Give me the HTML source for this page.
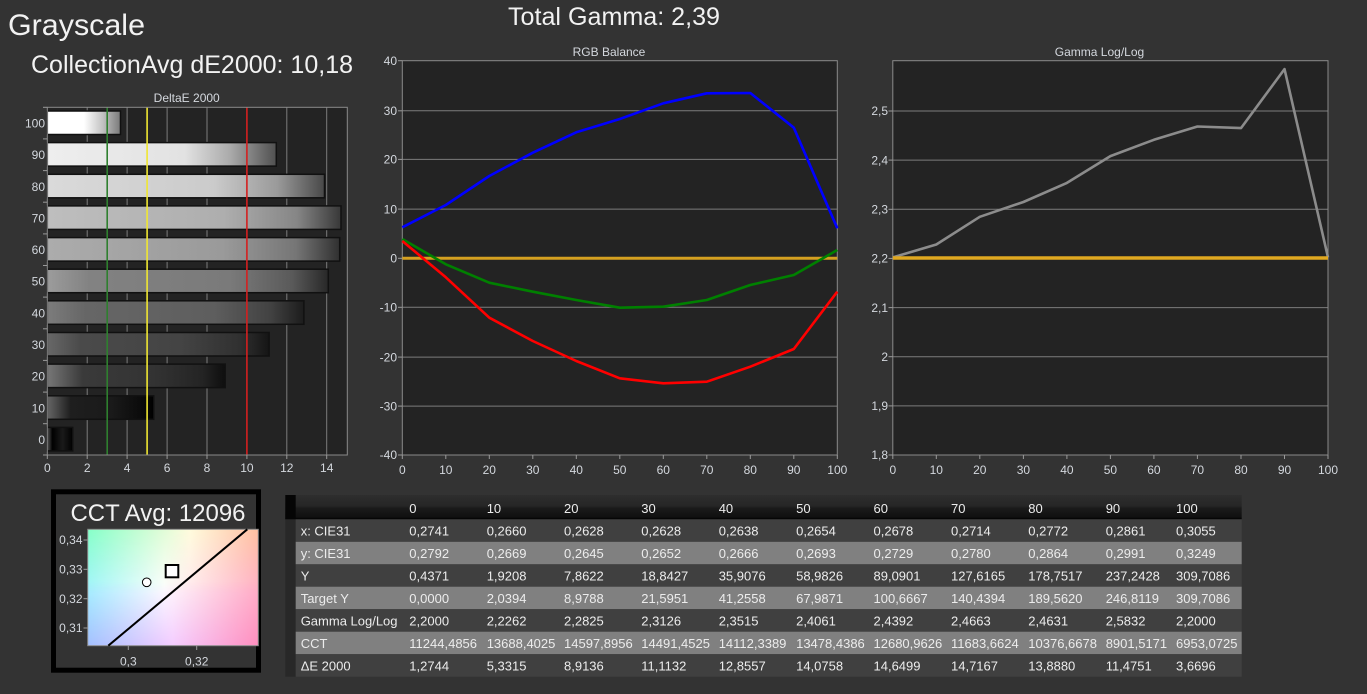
<!DOCTYPE html>
<html><head><meta charset="utf-8"><style>
html,body{margin:0;padding:0;background:#333333;}
svg{display:block;}
text{font-family:"Liberation Sans",sans-serif;}
</style></head><body>
<svg width="1367" height="694" viewBox="0 0 1367 694" xmlns="http://www.w3.org/2000/svg">
<defs>
<linearGradient id="g100" x1="0" x2="1" y1="0" y2="0"><stop offset="0" stop-color="#fff"/><stop offset="0.5" stop-color="#fff"/><stop offset="0.75" stop-color="#c4c4c4"/><stop offset="1" stop-color="#7a7a7a"/></linearGradient>
<linearGradient id="g90" x1="0" x2="1"><stop offset="0" stop-color="#eeeeee"/><stop offset="0.6" stop-color="#e2e2e2"/><stop offset="0.8" stop-color="#aaaaaa"/><stop offset="1" stop-color="#505050"/></linearGradient>
<linearGradient id="g80" x1="0" x2="1"><stop offset="0" stop-color="#dadada"/><stop offset="0.6" stop-color="#cbcbcb"/><stop offset="0.83" stop-color="#9a9a9a"/><stop offset="1" stop-color="#484848"/></linearGradient>
<linearGradient id="g70" x1="0" x2="1"><stop offset="0" stop-color="#bebebe"/><stop offset="0.6" stop-color="#aeaeae"/><stop offset="0.85" stop-color="#868686"/><stop offset="1" stop-color="#383838"/></linearGradient>
<linearGradient id="g60" x1="0" x2="1"><stop offset="0" stop-color="#acacac"/><stop offset="0.6" stop-color="#9a9a9a"/><stop offset="0.85" stop-color="#767676"/><stop offset="1" stop-color="#303030"/></linearGradient>
<linearGradient id="g50" x1="0" x2="1"><stop offset="0" stop-color="#9c9c9c"/><stop offset="0.15" stop-color="#828282"/><stop offset="0.65" stop-color="#7a7a7a"/><stop offset="0.87" stop-color="#5a5a5a"/><stop offset="1" stop-color="#282828"/></linearGradient>
<linearGradient id="g40" x1="0" x2="1"><stop offset="0" stop-color="#7c7c7c"/><stop offset="0.15" stop-color="#666"/><stop offset="0.65" stop-color="#5e5e5e"/><stop offset="0.87" stop-color="#424242"/><stop offset="1" stop-color="#1c1c1c"/></linearGradient>
<linearGradient id="g30" x1="0" x2="1"><stop offset="0" stop-color="#686868"/><stop offset="0.15" stop-color="#4a4a4a"/><stop offset="0.6" stop-color="#444"/><stop offset="0.87" stop-color="#303030"/><stop offset="1" stop-color="#151515"/></linearGradient>
<linearGradient id="g20" x1="0" x2="1"><stop offset="0" stop-color="#777"/><stop offset="0.2" stop-color="#3a3a3a"/><stop offset="0.6" stop-color="#333"/><stop offset="0.87" stop-color="#242424"/><stop offset="1" stop-color="#0e0e0e"/></linearGradient>
<linearGradient id="g10" x1="0" x2="1"><stop offset="0" stop-color="#666"/><stop offset="0.22" stop-color="#1e1e1e"/><stop offset="0.6" stop-color="#1a1a1a"/><stop offset="0.9" stop-color="#0a0a0a"/><stop offset="1" stop-color="#000"/></linearGradient>
<linearGradient id="g0" x1="0" x2="1"><stop offset="0" stop-color="#555"/><stop offset="0.2" stop-color="#000"/><stop offset="0.6" stop-color="#1a1a1a"/><stop offset="1" stop-color="#000"/></linearGradient>
<linearGradient id="hdr" x1="0" x2="0" y1="0" y2="1"><stop offset="0" stop-color="#2e2e2e"/><stop offset="0.45" stop-color="#262626"/><stop offset="0.55" stop-color="#1a1a1a"/><stop offset="0.9" stop-color="#111"/><stop offset="1" stop-color="#000"/></linearGradient>
<linearGradient id="cMid" x1="0" x2="1"><stop offset="0" stop-color="#a6f4ff"/><stop offset="0.45" stop-color="#ffffff"/><stop offset="1" stop-color="#ffb0c8"/></linearGradient>
<linearGradient id="cTop" x1="0" x2="1"><stop offset="0" stop-color="#86ffc8"/><stop offset="0.6" stop-color="#fffbdc"/><stop offset="1" stop-color="#ffbfa0"/></linearGradient>
<linearGradient id="cBot" x1="0" x2="1"><stop offset="0" stop-color="#a4c0ff"/><stop offset="0.5" stop-color="#f4ccff"/><stop offset="1" stop-color="#ff8ebe"/></linearGradient>
<linearGradient id="fadeTop" x1="0" x2="0" y1="0" y2="1"><stop offset="0" stop-color="#fff"/><stop offset="0.55" stop-color="#000"/></linearGradient>
<linearGradient id="fadeBot" x1="0" x2="0" y1="0" y2="1"><stop offset="0.45" stop-color="#000"/><stop offset="1" stop-color="#fff"/></linearGradient>
<mask id="mTop" maskUnits="userSpaceOnUse" x="87" y="529" width="172" height="117"><rect x="87.7" y="529.3" width="170.6" height="116.4" fill="url(#fadeTop)"/></mask>
<mask id="mBot" maskUnits="userSpaceOnUse" x="87" y="529" width="172" height="117"><rect x="87.7" y="529.3" width="170.6" height="116.4" fill="url(#fadeBot)"/></mask>
</defs>

<!-- Titles -->
<text x="8" y="35" font-size="30" fill="#f2f2f2" textLength="137" lengthAdjust="spacingAndGlyphs">Grayscale</text>
<text x="31" y="73" font-size="25" fill="#f2f2f2" textLength="322" lengthAdjust="spacingAndGlyphs">CollectionAvg dE2000: 10,18</text>
<text x="508" y="25" font-size="25" fill="#f2f2f2" textLength="212" lengthAdjust="spacingAndGlyphs">Total Gamma: 2,39</text>

<!-- ===== DeltaE chart ===== -->
<text x="186.7" y="102" font-size="12" fill="#d4d8de" text-anchor="middle">DeltaE 2000</text>
<rect x="47.3" y="107.3" width="300" height="347.7" fill="#232323"/>
<g stroke="#7c7c7c" stroke-width="1">
<line x1="87.2" y1="107.3" x2="87.2" y2="455"/>
<line x1="127.1" y1="107.3" x2="127.1" y2="455"/>
<line x1="167.1" y1="107.3" x2="167.1" y2="455"/>
<line x1="207.0" y1="107.3" x2="207.0" y2="455"/>
<line x1="286.8" y1="107.3" x2="286.8" y2="455"/>
<line x1="326.7" y1="107.3" x2="326.7" y2="455"/>
</g>
<g stroke="#111" stroke-width="1.5">
<rect x="47.3" y="111" width="73.2" height="23.5" fill="url(#g100)"/>
<rect x="47.3" y="142.6" width="229.0" height="23.5" fill="url(#g90)"/>
<rect x="47.3" y="174.3" width="277.2" height="23.5" fill="url(#g80)"/>
<rect x="47.3" y="205.9" width="293.7" height="23.5" fill="url(#g70)"/>
<rect x="47.3" y="237.6" width="292.4" height="23.5" fill="url(#g60)"/>
<rect x="47.3" y="269.2" width="281.0" height="23.5" fill="url(#g50)"/>
<rect x="47.3" y="300.8" width="256.6" height="23.5" fill="url(#g40)"/>
<rect x="47.3" y="332.5" width="221.8" height="23.5" fill="url(#g30)"/>
<rect x="47.3" y="364.1" width="177.9" height="23.5" fill="url(#g20)"/>
<rect x="47.3" y="395.8" width="106.4" height="23.5" fill="url(#g10)"/>
<rect x="47.3" y="427.4" width="25.4" height="23.5" fill="url(#g0)"/>
</g>
<line x1="107.2" y1="107.3" x2="107.2" y2="455" stroke="#2f7f2f" stroke-width="1.6"/>
<line x1="147.1" y1="107.3" x2="147.1" y2="455" stroke="#f0e632" stroke-width="1.6"/>
<line x1="246.9" y1="107.3" x2="246.9" y2="455" stroke="#d42020" stroke-width="1.6"/>
<rect x="47.3" y="107.3" width="300" height="347.7" fill="none" stroke="#8a8a8a" stroke-width="1"/>
<g stroke="#9a9a9a" stroke-width="1">
<line x1="43" y1="107.3" x2="47.3" y2="107.3"/><line x1="43" y1="138.9" x2="47.3" y2="138.9"/><line x1="43" y1="170.6" x2="47.3" y2="170.6"/><line x1="43" y1="202.2" x2="47.3" y2="202.2"/><line x1="43" y1="233.9" x2="47.3" y2="233.9"/><line x1="43" y1="265.5" x2="47.3" y2="265.5"/><line x1="43" y1="297.1" x2="47.3" y2="297.1"/><line x1="43" y1="328.8" x2="47.3" y2="328.8"/><line x1="43" y1="360.4" x2="47.3" y2="360.4"/><line x1="43" y1="392.1" x2="47.3" y2="392.1"/><line x1="43" y1="423.7" x2="47.3" y2="423.7"/><line x1="43" y1="455" x2="47.3" y2="455"/>
<line x1="47.3" y1="455" x2="47.3" y2="459"/><line x1="87.2" y1="455" x2="87.2" y2="459"/><line x1="127.1" y1="455" x2="127.1" y2="459"/><line x1="167.1" y1="455" x2="167.1" y2="459"/><line x1="207.0" y1="455" x2="207.0" y2="459"/><line x1="246.9" y1="455" x2="246.9" y2="459"/><line x1="286.8" y1="455" x2="286.8" y2="459"/><line x1="326.7" y1="455" x2="326.7" y2="459"/>
</g>
<g font-size="12" fill="#d4d8de" text-anchor="end">
<text x="45" y="127.5">100</text><text x="45" y="159.2">90</text><text x="45" y="190.8">80</text><text x="45" y="222.5">70</text><text x="45" y="254.1">60</text><text x="45" y="285.7">50</text><text x="45" y="317.4">40</text><text x="45" y="349">30</text><text x="45" y="380.7">20</text><text x="45" y="412.3">10</text><text x="45" y="444">0</text>
</g>
<g font-size="12" fill="#d4d8de" text-anchor="middle">
<text x="47.3" y="472">0</text><text x="87.2" y="472">2</text><text x="127.1" y="472">4</text><text x="167.1" y="472">6</text><text x="207.0" y="472">8</text><text x="246.9" y="472">10</text><text x="286.8" y="472">12</text><text x="326.7" y="472">14</text>
</g>

<!-- ===== RGB Balance ===== -->
<text x="609" y="56" font-size="12" fill="#d4d8de" text-anchor="middle">RGB Balance</text>
<rect x="402.3" y="60.7" width="435" height="394.3" fill="#232323"/>
<g stroke="#7c7c7c" stroke-width="1">
<line x1="402.3" y1="110.8" x2="837.3" y2="110.8"/>
<line x1="402.3" y1="159.4" x2="837.3" y2="159.4"/>
<line x1="402.3" y1="209.1" x2="837.3" y2="209.1"/>
<line x1="402.3" y1="258.3" x2="837.3" y2="258.3"/>
<line x1="402.3" y1="307.3" x2="837.3" y2="307.3"/>
<line x1="402.3" y1="357.1" x2="837.3" y2="357.1"/>
<line x1="402.3" y1="406.1" x2="837.3" y2="406.1"/>
</g>
<rect x="402.3" y="60.7" width="435" height="394.3" fill="none" stroke="#8a8a8a" stroke-width="1"/>
<g stroke="#9a9a9a" stroke-width="1">
<line x1="398" y1="60.7" x2="402.3" y2="60.7"/><line x1="398" y1="110.8" x2="402.3" y2="110.8"/><line x1="398" y1="159.4" x2="402.3" y2="159.4"/><line x1="398" y1="209.1" x2="402.3" y2="209.1"/><line x1="398" y1="258.3" x2="402.3" y2="258.3"/><line x1="398" y1="307.3" x2="402.3" y2="307.3"/><line x1="398" y1="357.1" x2="402.3" y2="357.1"/><line x1="398" y1="406.1" x2="402.3" y2="406.1"/><line x1="398" y1="455" x2="402.3" y2="455"/>
<line x1="402.3" y1="455" x2="402.3" y2="459"/><line x1="445.8" y1="455" x2="445.8" y2="459"/><line x1="489.3" y1="455" x2="489.3" y2="459"/><line x1="532.8" y1="455" x2="532.8" y2="459"/><line x1="576.3" y1="455" x2="576.3" y2="459"/><line x1="619.8" y1="455" x2="619.8" y2="459"/><line x1="663.3" y1="455" x2="663.3" y2="459"/><line x1="706.8" y1="455" x2="706.8" y2="459"/><line x1="750.3" y1="455" x2="750.3" y2="459"/><line x1="793.8" y1="455" x2="793.8" y2="459"/><line x1="837.3" y1="455" x2="837.3" y2="459"/>
</g>
<g font-size="12" fill="#d4d8de" text-anchor="end">
<text x="397" y="65">40</text><text x="397" y="115">30</text><text x="397" y="163.6">20</text><text x="397" y="213.3">10</text><text x="397" y="262.5">0</text><text x="397" y="311.5">-10</text><text x="397" y="361.3">-20</text><text x="397" y="410.3">-30</text><text x="397" y="459.2">-40</text>
</g>
<g font-size="12" fill="#d4d8de" text-anchor="middle">
<text x="402.3" y="474">0</text><text x="445.8" y="474">10</text><text x="489.3" y="474">20</text><text x="532.8" y="474">30</text><text x="576.3" y="474">40</text><text x="619.8" y="474">50</text><text x="663.3" y="474">60</text><text x="706.8" y="474">70</text><text x="750.3" y="474">80</text><text x="793.8" y="474">90</text><text x="837.3" y="474">100</text>
</g>
<line x1="402.3" y1="258.3" x2="837.3" y2="258.3" stroke="#d4a020" stroke-width="3"/>
<g fill="none" stroke-width="2.6" stroke-linejoin="round">
<polyline stroke="#0000ff" points="402.3,227.3 445.8,205 489.3,176 532.8,152.7 576.3,132.3 619.8,119 663.3,103.3 706.8,93.3 750.3,93 793.8,127.7 837.3,228.3"/>
<polyline stroke="#008000" points="402.3,239 445.8,264.3 489.3,282.7 532.8,291.7 576.3,300 619.8,307.7 663.3,306.7 706.8,300 750.3,285 793.8,275 837.3,250"/>
<polyline stroke="#ff0000" points="402.3,241 445.8,277.3 489.3,317.7 532.8,341 576.3,361 619.8,378.3 663.3,383.3 706.8,381.7 750.3,366.7 793.8,349 837.3,291.7"/>
</g>

<!-- ===== Gamma Log/Log ===== -->
<text x="1099.5" y="56" font-size="12" fill="#d4d8de" text-anchor="middle">Gamma Log/Log</text>
<rect x="892.8" y="60.7" width="435.2" height="394.3" fill="#232323"/>
<g stroke="#7c7c7c" stroke-width="1">
<line x1="892.8" y1="111" x2="1328" y2="111"/>
<line x1="892.8" y1="160.1" x2="1328" y2="160.1"/>
<line x1="892.8" y1="209.3" x2="1328" y2="209.3"/>
<line x1="892.8" y1="258.4" x2="1328" y2="258.4"/>
<line x1="892.8" y1="307.6" x2="1328" y2="307.6"/>
<line x1="892.8" y1="356.7" x2="1328" y2="356.7"/>
<line x1="892.8" y1="405.9" x2="1328" y2="405.9"/>
</g>
<rect x="892.8" y="60.7" width="435.2" height="394.3" fill="none" stroke="#8a8a8a" stroke-width="1"/>
<g stroke="#9a9a9a" stroke-width="1">
<line x1="888.5" y1="111" x2="892.8" y2="111"/><line x1="888.5" y1="160.1" x2="892.8" y2="160.1"/><line x1="888.5" y1="209.3" x2="892.8" y2="209.3"/><line x1="888.5" y1="258.4" x2="892.8" y2="258.4"/><line x1="888.5" y1="307.6" x2="892.8" y2="307.6"/><line x1="888.5" y1="356.7" x2="892.8" y2="356.7"/><line x1="888.5" y1="405.9" x2="892.8" y2="405.9"/><line x1="888.5" y1="455" x2="892.8" y2="455"/>
<line x1="892.8" y1="455" x2="892.8" y2="459"/><line x1="936.3" y1="455" x2="936.3" y2="459"/><line x1="979.8" y1="455" x2="979.8" y2="459"/><line x1="1023.4" y1="455" x2="1023.4" y2="459"/><line x1="1066.9" y1="455" x2="1066.9" y2="459"/><line x1="1110.4" y1="455" x2="1110.4" y2="459"/><line x1="1153.9" y1="455" x2="1153.9" y2="459"/><line x1="1197.4" y1="455" x2="1197.4" y2="459"/><line x1="1241" y1="455" x2="1241" y2="459"/><line x1="1284.5" y1="455" x2="1284.5" y2="459"/><line x1="1328" y1="455" x2="1328" y2="459"/>
</g>
<g font-size="12" fill="#d4d8de" text-anchor="end">
<text x="888" y="115.2">2,5</text><text x="888" y="164.3">2,4</text><text x="888" y="213.5">2,3</text><text x="888" y="262.6">2,2</text><text x="888" y="311.8">2,1</text><text x="888" y="360.9">2</text><text x="888" y="410.1">1,9</text><text x="888" y="459.2">1,8</text>
</g>
<g font-size="12" fill="#d4d8de" text-anchor="middle">
<text x="892.8" y="474">0</text><text x="936.3" y="474">10</text><text x="979.8" y="474">20</text><text x="1023.4" y="474">30</text><text x="1066.9" y="474">40</text><text x="1110.4" y="474">50</text><text x="1153.9" y="474">60</text><text x="1197.4" y="474">70</text><text x="1241" y="474">80</text><text x="1284.5" y="474">90</text><text x="1328" y="474">100</text>
</g>
<polyline fill="none" stroke="#8c8c8c" stroke-width="2.6" stroke-linejoin="round" points="892.8,257.4 936.3,244.5 979.8,216.8 1023.4,202 1066.9,182.9 1110.4,156.1 1153.9,139.8 1197.4,126.5 1241,128.1 1284.5,69.1 1328,257.4"/>
<line x1="892.8" y1="258" x2="1328" y2="258" stroke="#e0a820" stroke-width="3.6"/>

<!-- ===== CCT box ===== -->
<rect x="53.5" y="491.8" width="205" height="178.4" fill="#333" stroke="#000" stroke-width="5"/>
<text x="158" y="521" font-size="24" fill="#f2f2f2" text-anchor="middle" textLength="175" lengthAdjust="spacingAndGlyphs">CCT Avg: 12096</text>
<rect x="87.7" y="529.3" width="170.6" height="116.4" fill="url(#cMid)"/>
<rect x="87.7" y="529.3" width="170.6" height="116.4" fill="url(#cTop)" mask="url(#mTop)"/>
<rect x="87.7" y="529.3" width="170.6" height="116.4" fill="url(#cBot)" mask="url(#mBot)"/>
<rect x="87.7" y="529.3" width="170.6" height="116.4" fill="none" stroke="#8a8a8a" stroke-width="1"/>
<line x1="108.3" y1="645.7" x2="247.3" y2="529.3" stroke="#000" stroke-width="2"/>
<circle cx="146.7" cy="582.3" r="4.3" fill="#fff" stroke="#000" stroke-width="1"/>
<rect x="165.7" y="565" width="12.6" height="12.3" fill="#fff" stroke="#000" stroke-width="2"/>
<g stroke="#9a9a9a" stroke-width="1">
<line x1="83.5" y1="540" x2="87.7" y2="540"/><line x1="83.5" y1="569.3" x2="87.7" y2="569.3"/><line x1="83.5" y1="598.7" x2="87.7" y2="598.7"/><line x1="83.5" y1="628" x2="87.7" y2="628"/>
<line x1="128.3" y1="645.7" x2="128.3" y2="650"/><line x1="196.7" y1="645.7" x2="196.7" y2="650"/>
</g>
<g font-size="12" fill="#d4d8de" text-anchor="end">
<text x="82.5" y="544.2">0,34</text><text x="82.5" y="573.5">0,33</text><text x="82.5" y="602.9">0,32</text><text x="82.5" y="632.2">0,31</text>
</g>
<g font-size="12" fill="#d4d8de" text-anchor="middle">
<text x="128.3" y="665.5">0,3</text><text x="196.7" y="665.5">0,32</text>
</g>

<!-- ===== Table ===== -->
<rect x="285.3" y="495" width="956.4" height="24.3" fill="url(#hdr)"/>
<rect x="285.3" y="495" width="10.4" height="24.3" fill="#050505"/>
<rect x="285.3" y="519.3" width="10.4" height="157.4" fill="#282828"/>
<rect x="295.7" y="519.3" width="946" height="22.5" fill="#404040"/>
<rect x="295.7" y="541.8" width="946" height="22.5" fill="#808080"/>
<rect x="295.7" y="564.3" width="946" height="22.4" fill="#404040"/>
<rect x="295.7" y="586.7" width="946" height="22.5" fill="#808080"/>
<rect x="295.7" y="609.2" width="946" height="22.5" fill="#404040"/>
<rect x="295.7" y="631.7" width="946" height="22.5" fill="#808080"/>
<rect x="295.7" y="654.2" width="946" height="22.5" fill="#404040"/>
<g font-size="13" fill="#ececec">
<text y="513">
<tspan x="409.3">0</tspan><tspan x="486.7">10</tspan><tspan x="564">20</tspan><tspan x="641.3">30</tspan><tspan x="718.7">40</tspan><tspan x="796.1">50</tspan><tspan x="873.5">60</tspan><tspan x="951">70</tspan><tspan x="1028.3">80</tspan><tspan x="1105.7">90</tspan><tspan x="1176">100</tspan>
</text>
<text y="535.6"><tspan x="300.7">x: CIE31</tspan><tspan x="409.3">0,2741</tspan><tspan x="486.7">0,2660</tspan><tspan x="564">0,2628</tspan><tspan x="641.3">0,2628</tspan><tspan x="718.7">0,2638</tspan><tspan x="796.1">0,2654</tspan><tspan x="873.5">0,2678</tspan><tspan x="951">0,2714</tspan><tspan x="1028.3">0,2772</tspan><tspan x="1105.7">0,2861</tspan><tspan x="1176">0,3055</tspan></text>
<text y="558.1"><tspan x="300.7">y: CIE31</tspan><tspan x="409.3">0,2792</tspan><tspan x="486.7">0,2669</tspan><tspan x="564">0,2645</tspan><tspan x="641.3">0,2652</tspan><tspan x="718.7">0,2666</tspan><tspan x="796.1">0,2693</tspan><tspan x="873.5">0,2729</tspan><tspan x="951">0,2780</tspan><tspan x="1028.3">0,2864</tspan><tspan x="1105.7">0,2991</tspan><tspan x="1176">0,3249</tspan></text>
<text y="580.6"><tspan x="300.7">Y</tspan><tspan x="409.3">0,4371</tspan><tspan x="486.7">1,9208</tspan><tspan x="564">7,8622</tspan><tspan x="641.3">18,8427</tspan><tspan x="718.7">35,9076</tspan><tspan x="796.1">58,9826</tspan><tspan x="873.5">89,0901</tspan><tspan x="951">127,6165</tspan><tspan x="1028.3">178,7517</tspan><tspan x="1105.7">237,2428</tspan><tspan x="1176">309,7086</tspan></text>
<text y="603.1"><tspan x="300.7">Target Y</tspan><tspan x="409.3">0,0000</tspan><tspan x="486.7">2,0394</tspan><tspan x="564">8,9788</tspan><tspan x="641.3">21,5951</tspan><tspan x="718.7">41,2558</tspan><tspan x="796.1">67,9871</tspan><tspan x="873.5">100,6667</tspan><tspan x="951">140,4394</tspan><tspan x="1028.3">189,5620</tspan><tspan x="1105.7">246,8119</tspan><tspan x="1176">309,7086</tspan></text>
<text y="625.6"><tspan x="300.7">Gamma Log/Log</tspan><tspan x="409.3">2,2000</tspan><tspan x="486.7">2,2262</tspan><tspan x="564">2,2825</tspan><tspan x="641.3">2,3126</tspan><tspan x="718.7">2,3515</tspan><tspan x="796.1">2,4061</tspan><tspan x="873.5">2,4392</tspan><tspan x="951">2,4663</tspan><tspan x="1028.3">2,4631</tspan><tspan x="1105.7">2,5832</tspan><tspan x="1176">2,2000</tspan></text>
<text y="648.1"><tspan x="300.7">CCT</tspan><tspan x="409.3">11244,4856</tspan><tspan x="486.7">13688,4025</tspan><tspan x="564">14597,8956</tspan><tspan x="641.3">14491,4525</tspan><tspan x="718.7">14112,3389</tspan><tspan x="796.1">13478,4386</tspan><tspan x="873.5">12680,9626</tspan><tspan x="951">11683,6624</tspan><tspan x="1028.3">10376,6678</tspan><tspan x="1105.7">8901,5171</tspan><tspan x="1176">6953,0725</tspan></text>
<text y="670.6"><tspan x="300.7">ΔE 2000</tspan><tspan x="409.3">1,2744</tspan><tspan x="486.7">5,3315</tspan><tspan x="564">8,9136</tspan><tspan x="641.3">11,1132</tspan><tspan x="718.7">12,8557</tspan><tspan x="796.1">14,0758</tspan><tspan x="873.5">14,6499</tspan><tspan x="951">14,7167</tspan><tspan x="1028.3">13,8880</tspan><tspan x="1105.7">11,4751</tspan><tspan x="1176">3,6696</tspan></text>
</g>
</svg>
</body></html>
